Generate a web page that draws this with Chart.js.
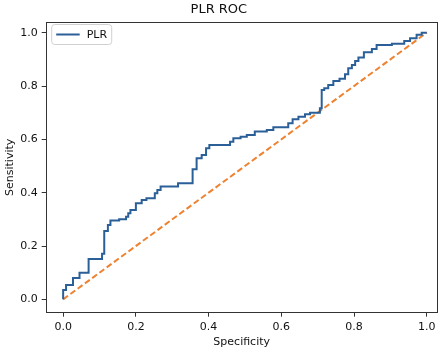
<!DOCTYPE html>
<html>
<head>
<meta charset="utf-8">
<script src="https://cdn.jsdelivr.net/npm/chart.js@4/dist/chart.umd.min.js"></script>
<style>
html,body{margin:0;padding:0;background:#fff;}
canvas{display:block;}
</style>
</head>
<body>
<canvas id="c" width="443" height="355"></canvas>
<script>
// ---- data ----
const TITLE = 'PLR ROC';
const SERIES_LABEL = 'PLR';
const X_LABEL = 'Specificity';
const Y_LABEL = 'Sensitivity';
const FPR = [0, 0, 0.008, 0.027, 0.045, 0.07, 0.107, 0.113, 0.123, 0.13, 0.154, 0.173, 0.179, 0.185, 0.2, 0.216, 0.229, 0.252, 0.259, 0.268, 0.316, 0.356, 0.367, 0.381, 0.393, 0.402, 0.459, 0.468, 0.488, 0.505, 0.527, 0.56, 0.578, 0.619, 0.631, 0.647, 0.665, 0.679, 0.706, 0.711, 0.718, 0.729, 0.743, 0.76, 0.775, 0.784, 0.794, 0.803, 0.812, 0.827, 0.849, 0.862, 0.904, 0.938, 0.954, 0.972, 0.986, 1.0];
const TPR = [0, 0.035, 0.054, 0.08, 0.1, 0.151, 0.171, 0.256, 0.279, 0.296, 0.30, 0.31, 0.323, 0.335, 0.36, 0.373, 0.379, 0.398, 0.41, 0.423, 0.435, 0.488, 0.529, 0.541, 0.567, 0.579, 0.591, 0.604, 0.61, 0.616, 0.629, 0.635, 0.645, 0.66, 0.675, 0.685, 0.694, 0.70, 0.717, 0.785, 0.792, 0.804, 0.819, 0.827, 0.844, 0.867, 0.879, 0.894, 0.907, 0.927, 0.939, 0.954, 0.958, 0.969, 0.979, 0.992, 1.0, 1.0];
const DIAG_X = [0, 1];
const DIAG_Y = [0, 1];
const X_TICKS = [0, 0.2, 0.4, 0.6, 0.8, 1.0];
const Y_TICKS = [0, 0.2, 0.4, 0.6, 0.8, 1.0];

const FONT = 'DejaVu Sans';
const BLUE = '#2a5f98';
const ORANGE = '#ee8230';

const framePlugin = {
  id: 'frame',
  beforeDatasetsDraw(chart) {
    const {ctx, chartArea: a} = chart;
    ctx.save();
    ctx.strokeStyle = '#333';
    ctx.lineWidth = 1;
    ctx.strokeRect(Math.round(a.left) + 0.5, Math.round(a.top) + 0.5,
                   Math.round(a.right - a.left) - 1, Math.round(a.bottom - a.top) - 1);
    ctx.restore();
  }
};

const legendPlugin = {
  id: 'innerLegend',
  afterDatasetsDraw(chart) {
    const {ctx, chartArea: a} = chart;
    const ds = chart.data.datasets[0];
    const x0 = a.left + 6, y0 = a.top + 2.5, w = 60, h = 20, r = 3;
    ctx.save();
    ctx.fillStyle = 'rgba(255,255,255,0.85)';
    ctx.strokeStyle = '#d0d0d0';
    ctx.lineWidth = 1;
    ctx.beginPath();
    ctx.moveTo(x0 + r, y0);
    ctx.lineTo(x0 + w - r, y0);
    ctx.arcTo(x0 + w, y0, x0 + w, y0 + r, r);
    ctx.lineTo(x0 + w, y0 + h - r);
    ctx.arcTo(x0 + w, y0 + h, x0 + w - r, y0 + h, r);
    ctx.lineTo(x0 + r, y0 + h);
    ctx.arcTo(x0, y0 + h, x0, y0 + h - r, r);
    ctx.lineTo(x0, y0 + r);
    ctx.arcTo(x0, y0, x0 + r, y0, r);
    ctx.closePath();
    ctx.fill();
    ctx.stroke();
    ctx.strokeStyle = ds.borderColor;
    ctx.lineWidth = 2;
    ctx.beginPath();
    ctx.moveTo(x0 + 4.5, y0 + h / 2);
    ctx.lineTo(x0 + 28, y0 + h / 2);
    ctx.stroke();
    ctx.fillStyle = '#111';
    ctx.font = '11px "' + FONT + '"';
    ctx.textBaseline = 'middle';
    ctx.fillText(ds.label, x0 + 35, y0 + h / 2 + 0.5);
    ctx.restore();
  }
};

new Chart(document.getElementById('c'), {
  type: 'scatter',
  data: {
    datasets: [
      {
        label: SERIES_LABEL,
        data: FPR.map((x, i) => ({x: x, y: TPR[i]})),
        showLine: true,
        stepped: 'before',
        borderColor: BLUE,
        borderWidth: 2,
        pointRadius: 0,
        fill: false,
        order: 1
      },
      {
        label: 'diag',
        data: DIAG_X.map((x, i) => ({x: x, y: DIAG_Y[i]})),
        showLine: true,
        borderColor: ORANGE,
        borderWidth: 2,
        borderDash: [6, 3],
        pointRadius: 0,
        fill: false,
        order: 2
      }
    ]
  },
  options: {
    responsive: false,
    animation: false,
    devicePixelRatio: 1,
    layout: {padding: {left: 0, right: 5.3, top: 0, bottom: 0}},
    plugins: {
      legend: {display: false},
      tooltip: {enabled: false},
      title: {
        display: true,
        text: TITLE,
        color: '#111',
        font: {family: FONT, size: 13, weight: 'normal'},
        padding: {top: 2, bottom: 4.4}
      }
    },
    scales: {
      x: {
        type: 'linear',
        min: -0.048,
        max: 1.03,
        afterBuildTicks: s => { s.ticks = X_TICKS.map(v => ({value: v})); },
        afterFit: s => { s.height = 42.3; },
        border: {display: false},
        grid: {drawOnChartArea: false, drawTicks: true, tickLength: 4, color: '#333', tickWidth: 1},
        ticks: {
          color: '#111', padding: 4,
          font: {family: FONT, size: 11},
          maxRotation: 0,
          callback: v => Number(v).toFixed(1)
        },
        title: {
          display: true, text: X_LABEL, color: '#111',
          font: {family: FONT, size: 11},
          padding: {top: 0, bottom: 6.4}
        }
      },
      y: {
        type: 'linear',
        min: -0.05,
        max: 1.04,
        afterBuildTicks: s => { s.ticks = Y_TICKS.map(v => ({value: v})); },
        afterFit: s => { s.width = 45.7; },
        border: {display: false},
        grid: {drawOnChartArea: false, drawTicks: true, tickLength: 4, color: '#333', tickWidth: 1},
        ticks: {
          color: '#111', padding: 4,
          font: {family: FONT, size: 11},
          callback: v => Number(v).toFixed(1)
        },
        title: {
          display: true, text: Y_LABEL, color: '#111',
          font: {family: FONT, size: 11},
          padding: {top: 3.4, bottom: 0}
        }
      }
    }
  },
  plugins: [framePlugin, legendPlugin]
});
</script>
</body>
</html>
